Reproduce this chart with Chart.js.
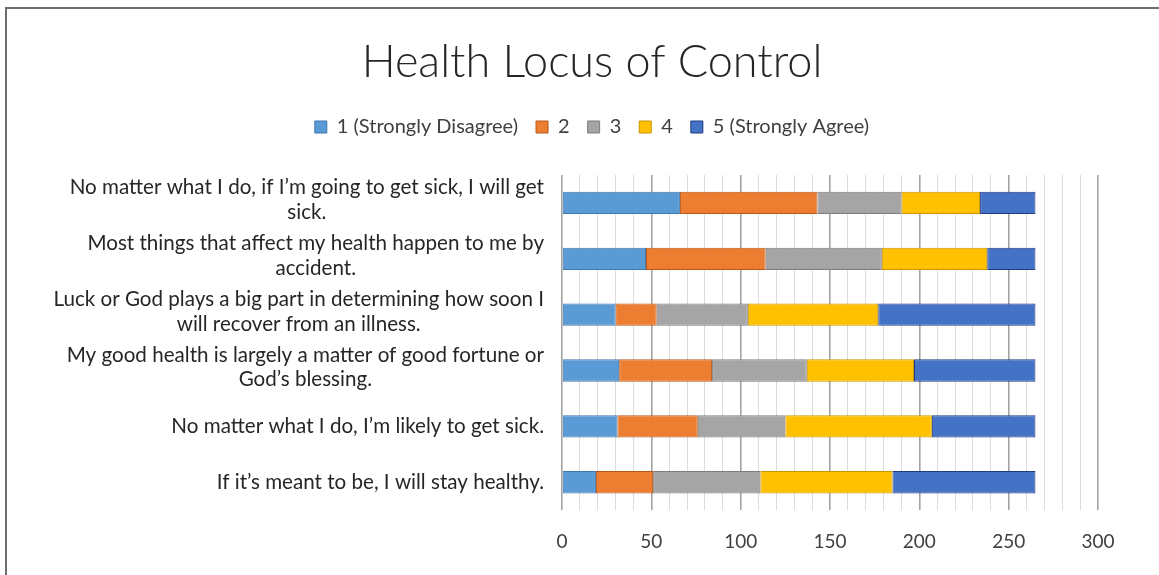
<!DOCTYPE html>
<html>
<head>
<meta charset="utf-8">
<script src="https://cdn.jsdelivr.net/npm/chart.js@4/dist/chart.umd.min.js"></script>
<style>
  html, body { margin: 0; padding: 0; background: #fff; }
  #frame { position: absolute; left: 5px; top: 7px; width: 1152px; height: 566px;
           border-left: 2px solid #6e6e6e; border-top: 2px solid #6e6e6e; }
  #wrap { position: relative; width: 1152px; height: 566px; }
</style>
</head>
<body>
<div id="frame"><div id="wrap"><canvas id="c"></canvas></div></div>
<script>
const categories = [
  ["No matter what I do, if I\u2019m going to get sick, I will get", "sick."],
  ["Most things that affect my health happen to me by", "accident."],
  ["Luck or God plays a big part in determining how soon I", "will recover from an illness."],
  ["My good health is largely a matter of good fortune or", "God\u2019s blessing."],
  ["No matter what I do, I\u2019m likely to get sick."],
  ["If it\u2019s meant to be, I will stay healthy."]
];
const seriesNames = ["1 (Strongly Disagree)", "2", "3", "4", "5 (Strongly Agree)"];
const s1 = [66, 47, 30, 32, 31, 19];
const s2 = [77, 67, 23, 52, 45, 32];
const s3 = [47, 65, 51, 53, 49, 60];
const s4 = [44, 59, 73, 60, 82, 74];
const s5 = [31, 27, 88, 68, 58, 80];
const tickLabelsShown = [0, 50, 100, 150, 200, 250, 300];

const fills = ["#5B9BD5", "#ED7D31", "#A5A5A5", "#FFC000", "#4472C4"];
const edges = ["#3F76AE", "#B55A1C", "#7C7C7C", "#C99400", "#1F3A80"];
const seriesValues = [s1, s2, s3, s4, s5];

const FONT = 'Lato, "Open Sans", sans-serif';
const labelFont = '20.6px ' + FONT;

const yLabelPlugin = {
  id: 'yLabels',
  afterDraw(chart) {
    const ctx = chart.ctx;
    const yScale = chart.scales.y;
    const rightEdge = 537;
    const lineH = 24.5;
    ctx.save();
    ctx.font = labelFont;
    ctx.fillStyle = '#262626';
    ctx.textAlign = 'center';
    ctx.textBaseline = 'middle';
    chart.data.labels.forEach((lines, i) => {
      const yc = yScale.getPixelForValue(i);
      const bw = Math.max(...lines.map(l => ctx.measureText(l).width));
      const xc = rightEdge - bw / 2;
      const y0 = yc - (lines.length - 1) * lineH / 2 - (lines.length > 1 ? 3 : 0);
      lines.forEach((l, k) => ctx.fillText(l, xc, y0 + k * lineH));
    });
    ctx.restore();
  }
};

new Chart(document.getElementById('c'), {
  type: 'bar',
  data: {
    labels: categories,
    datasets: seriesNames.map((n, i) => ({
      label: n,
      data: seriesValues[i],
      backgroundColor: fills[i],
      borderColor: edges[i],
      borderWidth: 1,
      borderSkipped: false,
      barPercentage: 0.4,
      categoryPercentage: 1.0
    }))
  },
  options: {
    indexAxis: 'y',
    responsive: true,
    maintainAspectRatio: false,
    animation: false,
    layout: { padding: { left: 79, right: 61, top: 0, bottom: 2 } },
    scales: {
      x: {
        stacked: true,
        min: 0,
        max: 300,
        border: { display: false },
        grid: {
          drawTicks: false,
          color: c => (c.tick && c.tick.value % 50 === 0) ? '#a3a3a3' : '#dcdcdc',
          lineWidth: c => (c.tick && c.tick.value % 50 === 0) ? 1.6 : 1
        },
        ticks: {
          stepSize: 10,
          autoSkip: false,
          maxRotation: 0,
          padding: 20,
          color: '#404040',
          font: { family: FONT, size: 19 },
          callback: v => tickLabelsShown.includes(v) ? String(v) : ''
        }
      },
      y: {
        stacked: true,
        grid: { display: false },
        border: { display: false },
        ticks: { display: false },
        afterFit: s => { s.width = 476; }
      }
    },
    plugins: {
      title: {
        display: true,
        text: 'Health Locus of Control',
        color: '#262626',
        font: { family: FONT, size: 45, weight: 300, lineHeight: 1.2 },
        padding: { top: 26, bottom: 10 }
      },
      legend: {
        display: true,
        position: 'top',
        labels: {
          boxWidth: 12,
          boxHeight: 12,
          padding: 18,
          color: '#404040',
          font: { family: FONT, size: 20 }
        }
      },
      subtitle: {
        display: true,
        text: '',
        weight: 500,
        padding: 0,
        font: { size: 28, lineHeight: 1 }
      },
      tooltip: { enabled: false }
    }
  },
  plugins: [yLabelPlugin]
});
</script>
</body>
</html>
